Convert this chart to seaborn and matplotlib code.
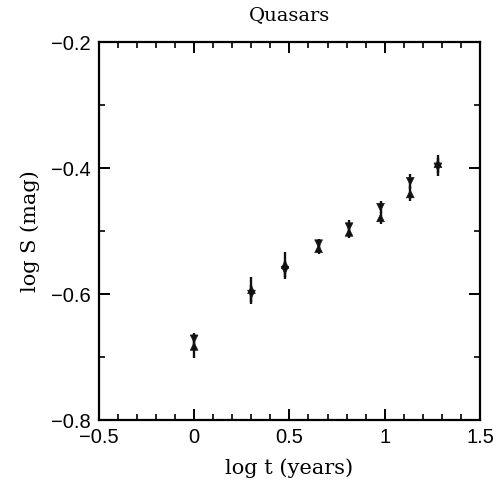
import matplotlib
matplotlib.use("Agg")
import matplotlib.pyplot as plt
import seaborn as sns
import pandas as pd
from matplotlib.ticker import MultipleLocator

# ---- data ----
log_t = [0.0, 0.301, 0.477, 0.653, 0.813, 0.978, 1.134, 1.279]
up_vals = [-0.683, -0.593, -0.553, -0.528, -0.502, -0.479, -0.441, -0.393]
up_err = [0.019, 0.020, 0.020, 0.008, 0.009, 0.009, 0.012, 0.014]
down_vals = [-0.671, -0.600, -0.562, -0.520, -0.493, -0.462, -0.421, -0.398]
down_err = [0.010, 0.015, 0.014, 0.008, 0.010, 0.009, 0.012, 0.014]

title = "Quasars"
xlabel = "log t (years)"
ylabel = "log S (mag)"

sns.set_theme(style="ticks")
plt.rcParams["font.family"] = ["Liberation Sans", "DejaVu Sans"]
plt.rcParams["axes.unicode_minus"] = True

df = pd.DataFrame({
    "x": log_t + log_t,
    "y": up_vals + down_vals,
    "err": up_err + down_err,
    "series": ["up"] * len(log_t) + ["down"] * len(log_t),
})

fig = plt.figure(figsize=(4.99, 4.84), dpi=100)
ax = fig.add_axes([0.198, 0.132, 0.764, 0.781])

for s in ["up", "down"]:
    d = df[df.series == s]
    ax.errorbar(d.x, d.y, yerr=d.err, fmt="none", ecolor="#111111",
                elinewidth=1.7, capsize=0, zorder=2)

sns.scatterplot(data=df, x="x", y="y", style="series",
                markers={"up": "^", "down": "v"}, color="#111111",
                s=32, edgecolor="#111111", linewidth=0.4, legend=False,
                ax=ax, zorder=3)

ax.set_xlim(-0.5, 1.5)
ax.set_ylim(-0.8, -0.2)
ax.xaxis.set_minor_locator(MultipleLocator(0.1))
ax.yaxis.set_minor_locator(MultipleLocator(0.1))
ax.set_xticks([-0.5, 0, 0.5, 1, 1.5])
ax.set_xticklabels(["\u22120.5", "0", "0.5", "1", "1.5"])
ax.set_yticks([-0.8, -0.6, -0.4, -0.2])
ax.set_yticklabels(["\u22120.8", "\u22120.6", "\u22120.4", "\u22120.2"])

ax.tick_params(which="both", direction="in", top=True, right=True,
               color="black", labelcolor="black", labelsize=14.5, pad=6)
ax.tick_params(which="major", length=8, width=1.4)
ax.tick_params(which="minor", length=4, width=1.2)
for sp in ax.spines.values():
    sp.set_linewidth(1.6)
    sp.set_color("black")

serif = ["DejaVu Serif"]
ax.set_title(title, family=serif, fontsize=14, pad=16, color="black")
ax.set_xlabel(xlabel, family=serif, fontsize=15, labelpad=8, color="black")
ax.set_ylabel(ylabel, family=serif, fontsize=15, labelpad=8, color="black")

fig.savefig("out.png", dpi=100)
